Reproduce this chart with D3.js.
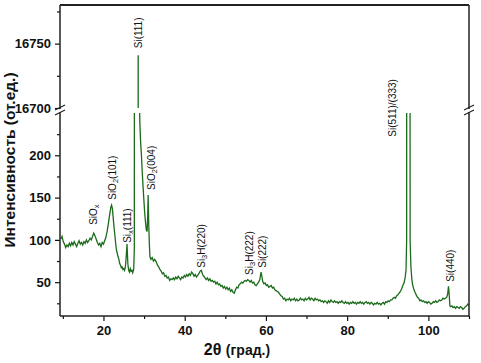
<!DOCTYPE html>
<html lang="ru">
<head>
<meta charset="UTF-8">
<title>XRD</title>
<style>
  body { margin: 0; background: #fff; }
  svg { display: block; font-family: "Liberation Sans", Arial, sans-serif; }
  .tick-label { font-size: 13px; font-weight: bold; fill: #111; }
  .peak-label { font-size: 10px; fill: #111; }
  .axis-title { font-weight: bold; fill: #111; }
</style>
</head>
<body>
<div id="chart"></div>
<script src="https://d3js.org/d3.v7.min.js"></script>
<script>
// 2theta (deg), intensity (arb. units)
const scan = [
  [9.5,101],[9.8,104],[10.1,98],[10.4,95],[10.7,91],[11.0,94],[11.3,92],[11.6,96],[11.9,93],[12.2,97],
  [12.5,94],[12.8,98],[13.1,95],[13.4,92],[13.7,96],[14.0,99],[14.3,95],[14.6,97],[14.9,94],[15.2,98],
  [15.5,96],[15.8,100],[16.1,97],[16.4,99],[16.7,102],[17.0,100],[17.3,104],[17.6,108],[17.9,105],[18.2,101],
  [18.5,97],[18.8,94],[19.1,96],[19.4,92],[19.7,97],[20.0,95],[20.3,99],[20.6,103],[20.9,110],[21.2,119],
  [21.5,129],[21.8,138],[22.0,141],[22.2,137],[22.4,126],[22.6,115],[22.8,106],[23.0,96],[23.2,88],[23.4,84],
  [23.6,80],[23.8,77],[24.0,72],[24.2,70],[24.4,67],[24.6,68],[24.8,65],[25.0,66],[25.2,64],[25.4,68],
  [25.6,80],[25.8,95],[26.0,72],[26.2,64],[26.4,62],[26.6,66],[26.8,63],[27.0,64],[27.2,61],[27.45,65],
  [27.6,90],[28.55,16741],[28.75,300],[28.95,240],[29.15,215],[29.35,200],[29.55,180],[29.75,163],[29.95,147],
  [30.15,132],[30.35,121],[30.55,112],[30.75,110],[30.9,130],[31.0,153],[31.15,118],[31.3,95],[31.45,80],
  [31.7,77],[32.0,79],[32.3,75],[32.6,77],[33.0,74],[33.3,70],[33.6,68],[33.9,65],[34.2,63],[34.5,60],
  [34.8,61],[35.1,57],[35.4,58],[35.7,55],[36.0,56],[36.3,52],[36.6,54],[36.9,53],[37.2,55],[37.5,53],
  [37.8,56],[38.1,54],[38.4,57],[38.7,55],[39.0,53],[39.3,56],[39.6,55],[39.9,58],[40.2,56],[40.5,59],
  [40.8,57],[41.1,60],[41.4,58],[41.7,62],[42.0,60],[42.3,57],[42.6,59],[42.9,56],[43.2,58],[43.5,60],
  [43.8,63],[44.1,64],[44.4,59],[44.7,57],[45.0,55],[45.3,53],[45.6,55],[45.9,52],[46.2,54],[46.5,51],
  [46.8,52],[47.1,50],[47.4,51],[47.7,48],[48.0,50],[48.3,47],[48.6,48],[48.9,45],[49.2,46],[49.5,43],
  [49.8,45],[50.1,42],[50.4,44],[50.7,41],[51.0,43],[51.3,39],[51.6,41],[51.9,38],[52.2,37],[52.5,41],
  [52.8,44],[53.1,43],[53.4,47],[53.7,48],[54.0,50],[54.3,49],[54.6,51],[54.9,52],[55.2,51],[55.5,53],
  [55.8,52],[56.1,50],[56.4,52],[56.7,49],[57.0,50],[57.3,47],[57.6,46],[57.9,48],[58.2,50],[58.5,53],
  [58.8,62],[59.0,57],[59.2,51],[59.5,48],[59.8,49],[60.1,46],[60.4,47],[60.7,44],[61.0,45],[61.3,46],
  [61.6,43],[61.9,44],[62.2,41],[62.5,40],[62.8,39],[63.1,38],[63.4,36],[63.7,34],[64.0,33],[64.3,30],
  [64.6,31],[64.9,28],[65.2,30],[65.5,29],[65.8,31],[66.1,28],[66.4,30],[66.7,29],[67.0,31],[67.3,28],
  [67.6,30],[67.9,28],[68.2,29],[68.5,31],[68.8,29],[69.1,30],[69.4,28],[69.7,31],[70.0,29],[70.3,30],
  [70.6,32],[70.9,29],[71.2,31],[71.5,30],[71.8,28],[72.1,31],[72.4,29],[72.7,30],[73.0,28],[73.3,29],
  [73.6,27],[73.9,28],[74.2,26],[74.5,28],[74.8,27],[75.1,25],[75.4,28],[75.7,26],[76.0,29],[76.3,27],
  [76.6,26],[76.9,28],[77.2,26],[77.5,27],[77.8,25],[78.1,27],[78.4,26],[78.7,28],[79.0,26],[79.3,25],
  [79.6,27],[79.9,25],[80.2,26],[80.5,24],[80.8,26],[81.1,25],[81.4,27],[81.7,25],[82.0,26],[82.3,24],
  [82.6,26],[82.9,25],[83.2,27],[83.5,25],[83.8,26],[84.1,24],[84.4,26],[84.7,27],[85.0,25],[85.3,26],
  [85.6,24],[85.9,26],[86.2,25],[86.5,23],[86.8,25],[87.1,24],[87.4,26],[87.7,24],[88.0,25],[88.3,23],
  [88.6,25],[88.9,26],[89.2,24],[89.5,27],[89.8,26],[90.1,28],[90.4,27],[90.7,29],[91.0,29],[91.3,31],
  [91.6,32],[91.9,31],[92.2,34],[92.5,35],[92.8,37],[93.1,39],[93.4,42],[93.7,46],[94.0,49],[94.3,56],
  [94.5,65],[94.65,100],[94.75,3000],[95.35,3000],[95.5,100],[95.7,68],[95.9,55],[96.1,47],[96.4,42],[96.7,38],
  [97.0,35],[97.3,32],[97.6,31],[97.9,28],[98.2,29],[98.5,27],[98.8,28],[99.1,26],[99.4,27],[99.7,25],
  [100.0,27],[100.3,26],[100.6,24],[100.9,25],[101.2,27],[101.5,26],[101.8,28],[102.1,26],[102.4,27],[102.7,29],
  [103.0,28],[103.3,29],[103.6,31],[103.9,30],[104.2,31],[104.5,32],[104.75,36],[104.95,45],[105.1,37],[105.3,22],
  [105.5,21],[105.8,22],[106.1,20],[106.4,21],[106.7,19],[107.0,21],[107.3,20],[107.6,19],[107.9,21],[108.2,20],
  [108.5,18],[108.8,19],[109.1,21],[109.4,22],[109.7,24],[110.0,22]
];

// peak annotations: "_" marks a one-character subscript
const peakNames  = ["SiO_x", "SiO_2(101)", "Si_x(111)", "Si(111)", "SiO_2(004)", "Si_3H(220)", "Si_3H(222)", "Si(222)", "Si(511)/(333)", "Si(440)"];
const peakAngles = [18.35, 23.0, 26.7, 29.4, 32.6, 44.9, 56.7, 60.1, 92.1, 106.3];
const peakLevels = [117.8, 147.4, 96.5, 16746.4, 159, 67, 58.6, 67, 222, 50.4];

const xMajor = [20, 40, 60, 80, 100];
const xMinor = [10, 30, 50, 70, 90, 110];
const lowMajor = [50, 100, 150, 200];
const lowMinor = [25, 75, 125, 175, 225];
const highMajor = [16700, 16750];
const highMinor = [16725, 16775];

const W = 481, H = 363;
const pLeft = 60, pRight = 469, pTop = 5, pBottom = 316;
const breakHi = 108, breakLo = 113;

const svg = d3.select("#chart").append("svg")
    .attr("width", W)
    .attr("height", H);

const x = d3.scaleLinear().domain([9.3, 110]).range([pLeft, pRight]);
const yLow = d3.scaleLinear().domain([10, 250]).range([pBottom, breakLo]);
const yHigh = d3.scaleLinear().domain([16700, 16780]).range([breakHi, pTop]);

const defs = svg.append("defs");
defs.append("clipPath").attr("id", "clip-low")
    .append("rect").attr("x", pLeft).attr("y", breakLo).attr("width", pRight - pLeft).attr("height", pBottom - breakLo);
defs.append("clipPath").attr("id", "clip-high")
    .append("rect").attr("x", pLeft).attr("y", pTop).attr("width", pRight - pLeft).attr("height", breakHi - pTop);

const lineLow = d3.line().x(d => x(d[0])).y(d => yLow(d[1]));
const lineHigh = d3.line().x(d => x(d[0])).y(d => yHigh(d[1]));

const green = "#1b6b1b";
svg.append("path").datum(scan)
    .attr("clip-path", "url(#clip-low)")
    .attr("fill", "none").attr("stroke", green).attr("stroke-width", 1.3)
    .attr("d", lineLow);
svg.append("path").datum(scan)
    .attr("clip-path", "url(#clip-high)")
    .attr("fill", "none").attr("stroke", green).attr("stroke-width", 1.3)
    .attr("d", lineHigh);

// axes
const fmt = d3.format("d");
function tickAxis(axis, g) {
    g.call(axis);
    g.select(".domain").remove();
    g.selectAll(".tick line").attr("stroke", "#111").attr("stroke-width", 1.2);
    g.selectAll(".tick text").attr("class", "tick-label");
    g.attr("font-family", null).attr("font-size", null);
}
tickAxis(d3.axisBottom(x).tickValues(xMajor).tickSize(5).tickPadding(5).tickFormat(fmt),
    svg.append("g").attr("transform", `translate(0,${pBottom})`));
tickAxis(d3.axisBottom(x).tickValues(xMinor).tickSize(3).tickFormat(""),
    svg.append("g").attr("transform", `translate(0,${pBottom})`));
tickAxis(d3.axisLeft(yLow).tickValues(lowMajor).tickSize(5).tickPadding(4).tickFormat(fmt),
    svg.append("g").attr("transform", `translate(${pLeft},0)`));
tickAxis(d3.axisLeft(yLow).tickValues(lowMinor).tickSize(3).tickFormat(""),
    svg.append("g").attr("transform", `translate(${pLeft},0)`));
tickAxis(d3.axisLeft(yHigh).tickValues(highMajor).tickSize(5).tickPadding(4).tickFormat(fmt),
    svg.append("g").attr("transform", `translate(${pLeft},0)`));
tickAxis(d3.axisLeft(yHigh).tickValues(highMinor).tickSize(3).tickFormat(""),
    svg.append("g").attr("transform", `translate(${pLeft},0)`));

const frame = svg.append("g").attr("stroke", "#222").attr("fill", "none");
frame.append("line").attr("x1", pLeft).attr("x2", pRight).attr("y1", pTop).attr("y2", pTop).attr("stroke-width", 2);
frame.append("line").attr("x1", pLeft).attr("x2", pRight).attr("y1", pBottom).attr("y2", pBottom).attr("stroke-width", 1.5);
[pLeft, pRight].forEach(px => {
    frame.append("line").attr("x1", px).attr("x2", px).attr("y1", pTop).attr("y2", breakHi + 1).attr("stroke-width", 1.5);
    frame.append("line").attr("x1", px).attr("x2", px).attr("y1", breakLo - 1).attr("y2", pBottom).attr("stroke-width", 1.5);
    // break marks
    frame.append("line").attr("x1", px - 5).attr("x2", px + 5).attr("y1", breakHi + 2).attr("y2", breakHi - 3).attr("stroke-width", 1.2);
    frame.append("line").attr("x1", px - 5).attr("x2", px + 5).attr("y1", breakLo + 2).attr("y2", breakLo - 3).attr("stroke-width", 1.2);
});

// peak labels
peakNames.forEach((name, i) => {
    const px = x(peakAngles[i]);
    const py = peakLevels[i] > 1000 ? yHigh(peakLevels[i]) : yLow(peakLevels[i]);
    const t = svg.append("text").attr("class", "peak-label")
        .attr("transform", `translate(${px},${py}) rotate(-90)`);
    name.split("_").forEach((part, j) => {
        if (j === 0) {
            t.append("tspan").text(part);
        } else {
            t.append("tspan").attr("font-size", "7.5px").attr("dy", 2).text(part[0]);
            t.append("tspan").attr("dy", -2).text(part.slice(1));
        }
    });
});

// axis titles
const xt = svg.append("text").attr("class", "axis-title")
    .attr("x", 237).attr("y", 355).attr("text-anchor", "middle").attr("font-size", "15px");
xt.append("tspan").attr("font-size", "16px").text("2θ ");
xt.append("tspan").attr("font-size", "14px").text("(град.)");

svg.append("text").attr("class", "axis-title")
    .attr("transform", "translate(15,160) rotate(-90)")
    .attr("text-anchor", "middle").attr("font-size", "15.5px")
    .text("Интенсивность (от.ед.)");
</script>
</body>
</html>
